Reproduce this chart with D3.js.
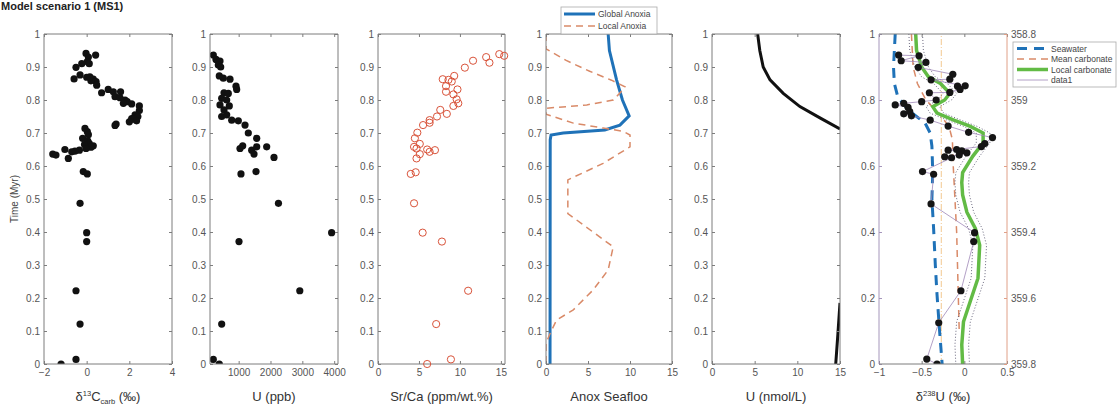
<!DOCTYPE html>
<html><head><meta charset="utf-8">
<script src="https://cdn.jsdelivr.net/npm/d3@7"></script>
<style>
body{margin:0;background:#fff;}
text{font-family:Arial,"Liberation Sans",sans-serif;}
</style>
</head><body>
<svg id="c" width="1120" height="417"></svg>
<script>
// ---------------- DATA ----------------
const title = "Model scenario 1 (MS1)";
const timeTicks = [0,0.1,0.2,0.3,0.4,0.5,0.6,0.7,0.8,0.9,1];
const timeTicks6 = [0,0.2,0.4,0.6,0.8,1];
const ageTicks = [358.8,359,359.2,359.4,359.6,359.8];

// Panel 1: d13C carb
const c13Ticks = [-2,0,2,4];
const c13Time = [0.941,0.936,0.93,0.916,0.91,0.91,0.899,0.864,0.876,0.869,0.863,0.856,0.845,0.858,0.87,0.822,0.832,0.825,0.825,0.81,0.807,0.8,0.795,0.79,0.788,0.782,0.768,0.755,0.75,0.744,0.742,0.737,0.734,0.727,0.723,0.714,0.704,0.695,0.684,0.676,0.669,0.665,0.661,0.657,0.653,0.648,0.645,0.643,0.65,0.623,0.636,0.633,0.583,0.576,0.487,0.398,0.371,0.222,0.121,0.014,0];
const c13Value = [-0.03,0.42,0.08,0.03,-0.23,0.12,-0.5,-0.59,-0.31,0,0.31,0.44,0.47,0.2,0.15,0.7,1.01,1.25,1.59,1.33,1.56,1.8,1.9,1.72,2.11,2.47,2.47,2.27,2.4,2.11,2.2,2.34,2.0,1.38,1.33,-0.08,0.03,0.08,-0.19,0.05,0.12,-0.1,0.31,0.2,-0.03,-0.34,-0.55,-0.70,-1.02,-0.86,-1.59,-1.44,-0.16,0.03,-0.31,0,0,-0.5,-0.31,-0.5,-1.2];

// Panel 2: U (ppb)
const uTicks = [1000,2000,3000,4000];
const uTime = [0.936,0.923,0.918,0.906,0.9,0.873,0.866,0.863,0.842,0.832,0.822,0.82,0.805,0.8,0.785,0.782,0.77,0.75,0.755,0.739,0.737,0.724,0.7,0.684,0.653,0.661,0.648,0.658,0.636,0.658,0.626,0.576,0.583,0.487,0.398,0.371,0.222,0.121,0.014,0];
const uValue = [204,288,414,361,436,392,518,728,917,938,540,675,467,624,414,706,540,467,624,782,990,1200,1303,1567,1042,1127,1409,1567,1482,1880,2110,1073,1545,2250,3920,1011,2920,467,204,392];

// Panel 3: Sr/Ca
const srTicks = [0,5,10,15];
const srTime = [0.939,0.934,0.93,0.913,0.919,0.898,0.873,0.863,0.861,0.856,0.842,0.832,0.825,0.817,0.802,0.79,0.782,0.77,0.758,0.75,0.739,0.731,0.724,0.701,0.684,0.667,0.658,0.653,0.65,0.643,0.648,0.636,0.623,0.576,0.581,0.487,0.398,0.371,0.222,0.121,0.014,0];
const srValue = [14.8,15.4,13.2,13.6,11.6,10.6,9.3,7.9,8.6,9.0,8.3,9.7,8.3,9.2,9.6,9.8,9.2,7.6,8.4,7.2,6.3,6.3,5.5,4.8,4.5,5.1,4.4,4.7,6.0,6.3,6.95,5.1,4.7,4.0,4.6,4.4,5.45,7.8,11.0,7.1,8.9,6.0];

// Panel 4: Anoxic seafloor
const anoxTicks = [0,5,10,15];
const globalAnoxTime = [1.0,0.95,0.861,0.8,0.752,0.724,0.709,0.7,0.694,0.679,0];
const globalAnoxValue = [7.4,7.55,8.4,9.1,9.9,8.8,7.0,2.05,0.6,0.5,0.48];
const localAnoxTime = [1.0,0.955,0.92,0.887,0.86,0.84,0.832,0.8,0.785,0.775,0.757,0.73,0.715,0.705,0.694,0.658,0.608,0.558,0.456,0.355,0.285,0.224,0.164,0.133,0.093,0.063,0];
const localAnoxValue = [0,0,2.4,5.2,7.8,9.4,9.2,8.0,4.85,0,0,3.25,6.8,9.2,10,10,6.8,2.6,2.6,8.0,7.4,5.6,3.25,1.25,0.5,0,0];

// Panel 5: U (nmol/L)
const uwTicks = [0,5,10,15];
const uwTime = [1.0,0.95,0.9,0.861,0.82,0.78,0.745,0.712,0.5,0.185,0.09,0];
const uwValue = [5.35,5.6,6.0,6.8,8.35,10.3,12.7,15.0,null,15.0,14.75,14.5];

// Panel 6: d238U
const d238Ticks = [-1,-0.5,0,0.5];
const seawaterTime = [1.0,0.95,0.9,0.85,0.81,0.77,0.73,0.7,0.66,0.58,0.5,0.41,0.3,0.21,0.1,0];
const seawaterValue = [-0.81,-0.82,-0.83,-0.82,-0.78,-0.66,-0.46,-0.40,-0.38,-0.37,-0.38,-0.36,-0.34,-0.32,-0.29,-0.26];
const meanCarbTime = [1.0,0.9,0.85,0.8,0.76,0.72,0.68,0.6,0.5,0.4,0.3,0.2,0.1];
const meanCarbValue = [-0.62,-0.6,-0.55,-0.45,-0.3,-0.18,-0.14,-0.13,-0.11,-0.09,-0.08,-0.07,-0.06];
const refLineTime = [0,1];
const refLineValue = [-0.27,-0.27];
const localCarbTime = [1.0,0.95,0.9,0.87,0.85,0.82,0.80,0.78,0.76,0.74,0.72,0.70,0.67,0.63,0.58,0.55,0.512,0.46,0.41,0.36,0.26,0.19,0.128,0.058,0];
const localCarbValue = [-0.57,-0.56,-0.5,-0.42,-0.28,-0.17,-0.23,-0.37,-0.32,-0.13,0.07,0.22,0.22,0.1,-0.02,-0.03,-0.02,0.03,0.13,0.18,0.16,0.07,-0.01,-0.03,-0.02];
const localCarbBand = 0.08;
const d238Time = [0.936,0.934,0.919,0.914,0.899,0.878,0.863,0.861,0.843,0.842,0.832,0.823,0.822,0.80,0.795,0.79,0.785,0.778,0.765,0.758,0.752,0.739,0.721,0.702,0.686,0.668,0.659,0.65,0.648,0.646,0.64,0.633,0.628,0.625,0.583,0.575,0.485,0.398,0.371,0.222,0.125,0.015,0];
const d238Value = [-0.77,-0.53,-0.74,-0.45,-0.54,-0.135,-0.17,-0.39,0.01,-0.08,-0.05,-0.17,-0.41,-0.33,-0.5,-0.71,-0.81,-0.66,-0.64,-0.71,-0.62,-0.40,-0.19,0.05,0.33,0.24,0.20,-0.09,-0.19,-0.03,0.03,-0.06,-0.23,-0.15,-0.49,-0.36,-0.39,0.12,0.11,-0.04,-0.30,-0.44,-0.32];

// ---------------- DRAWING ----------------
const svg = d3.select("#c");
const TOP = 34, BOT = 364;
const AX = "#7d7d7d", LBL = "#555";
const BLUE = "#1f72b8", ORANGE = "#d98a68", GREEN = "#62bb45", PURPLE = "#a088b8";

svg.append("text").attr("x", 1).attr("y", 10).attr("font-size", 11).attr("font-weight", "bold")
  .attr("fill", "#222").text(title);

const y = d3.scaleLinear().domain([0, 1]).range([BOT, TOP]);
let clipId = 0;

function panel(x0, x1, xDomain, xTicks, yTickVals, opts = {}) {
  const x = d3.scaleLinear().domain(xDomain).range([x0, x1]);
  const g = svg.append("g");
  const id = "clip" + (clipId++);
  svg.append("clipPath").attr("id", id).append("rect")
    .attr("x", x0).attr("y", TOP).attr("width", x1 - x0).attr("height", BOT - TOP);
  const plot = g.append("g").attr("clip-path", `url(#${id})`);
  const axB = g.append("g").attr("transform", `translate(0,${BOT})`)
    .call(d3.axisBottom(x).tickValues(xTicks).tickSize(-3).tickPadding(5).tickFormat(d3.format("")));
  const axT = g.append("g").attr("transform", `translate(0,${TOP})`)
    .call(d3.axisTop(x).tickValues(xTicks).tickSize(-3).tickFormat(""));
  const axL = g.append("g").attr("transform", `translate(${x0},0)`)
    .call(d3.axisLeft(y).tickValues(yTickVals).tickSize(-3).tickPadding(4).tickFormat(d3.format("")));
  const axes = [axB, axT, axL];
  if (!opts.noRight) {
    axes.push(g.append("g").attr("transform", `translate(${x1},0)`)
      .call(d3.axisRight(y).tickValues(yTickVals).tickSize(-3).tickFormat("")));
  }
  axes.forEach(a => {
    a.select(".domain").remove();
    a.selectAll("line").attr("stroke", AX);
    a.selectAll("text").attr("fill", LBL).attr("font-size", 10);
  });
  if (opts.leftColor) axL.selectAll("line").attr("stroke", opts.leftColor);
  const border = g.append("g");
  border.append("line").attr("x1", x0).attr("x2", x1).attr("y1", TOP).attr("y2", TOP).attr("stroke", AX);
  border.append("line").attr("x1", x0).attr("x2", x1).attr("y1", BOT).attr("y2", BOT).attr("stroke", AX);
  border.append("line").attr("x1", x0).attr("x2", x0).attr("y1", TOP).attr("y2", BOT).attr("stroke", opts.leftColor || AX);
  border.append("line").attr("x1", x1).attr("x2", x1).attr("y1", TOP).attr("y2", BOT).attr("stroke", opts.rightColor || AX);
  return {x, g, plot};
}

// parts: {t, dy, small}
function xLabel(p, parts) {
  const [a, b] = p.x.range();
  const t = p.g.append("text").attr("x", (a + b) / 2).attr("y", 401).attr("text-anchor", "middle")
    .attr("font-size", 13).attr("fill", "#333");
  parts.forEach(pt => {
    const ts = t.append("tspan").text(pt.t).attr("font-size", pt.small ? 7.5 : 13);
    if (pt.dy) ts.attr("dy", pt.dy);
  });
}

function zip(ts, vs) { return ts.map((t, i) => ({t, v: vs[i]})); }
function drawLine(p, data, attrs) {
  const l = d3.line().defined(d => d.v != null).x(d => p.x(d.v)).y(d => y(d.t));
  const path = p.plot.append("path").datum(data).attr("fill", "none").attr("d", l);
  Object.entries(attrs).forEach(([k, v]) => path.attr(k, v));
  return path;
}

// Panel 1
const p1 = panel(44, 172, [-2, 4], c13Ticks, timeTicks);
p1.plot.selectAll("circle").data(zip(c13Time, c13Value)).join("circle")
  .attr("cx", d => p1.x(d.v)).attr("cy", d => y(d.t)).attr("r", 3.6).attr("fill", "#111");
xLabel(p1, [{t: "δ"}, {t: "13", dy: -5, small: true}, {t: "C", dy: 5}, {t: "carb", dy: 3, small: true}, {t: " (‰)", dy: -3}]);
svg.append("text").attr("transform", `translate(18,${(TOP + BOT) / 2}) rotate(-90)`)
  .attr("text-anchor", "middle").attr("font-size", 10).attr("fill", "#444").text("Time (Myr)");

// Panel 2
const p2 = panel(210, 338, [100, 4120], uTicks, timeTicks);
p2.plot.selectAll("circle").data(zip(uTime, uValue)).join("circle")
  .attr("cx", d => p2.x(d.v)).attr("cy", d => y(d.t)).attr("r", 3.6).attr("fill", "#111");
xLabel(p2, [{t: "U (ppb)"}]);

// Panel 3
const p3 = panel(378, 505, [0, 15.5], srTicks, timeTicks);
p3.g.append("g").selectAll("circle").data(zip(srTime, srValue)).join("circle")
  .attr("cx", d => p3.x(d.v)).attr("cy", d => y(d.t)).attr("r", 3.6)
  .attr("fill", "none").attr("stroke", "#d9533a").attr("stroke-width", 1);
xLabel(p3, [{t: "Sr/Ca (ppm/wt.%)"}]);

// Panel 4
const p4 = panel(546, 672, [0, 15], anoxTicks, timeTicks);
drawLine(p4, zip(globalAnoxTime, globalAnoxValue), {stroke: BLUE, "stroke-width": 3});
drawLine(p4, zip(localAnoxTime, localAnoxValue), {stroke: ORANGE, "stroke-width": 1.5, "stroke-dasharray": "7,5"});
xLabel(p4, [{t: "Anox Seafloo"}]);
const lg4 = svg.append("g");
lg4.append("rect").attr("x", 561).attr("y", 7).attr("width", 96).attr("height", 27)
  .attr("fill", "#fff").attr("stroke", "#aaa").attr("stroke-width", 0.8);
[["Global Anoxia", BLUE, 3, null], ["Local Anoxia", ORANGE, 1.5, "7,5"]].forEach((e, i) => {
  const yy = 14 + i * 12;
  const ln = lg4.append("line").attr("x1", 564).attr("x2", 595).attr("y1", yy).attr("y2", yy)
    .attr("stroke", e[1]).attr("stroke-width", e[2]);
  if (e[3]) ln.attr("stroke-dasharray", e[3]);
  lg4.append("text").attr("x", 598).attr("y", yy + 3).attr("font-size", 8.5).attr("fill", "#444").text(e[0]);
});

// Panel 5
const p5 = panel(712, 840, [0, 15], uwTicks, timeTicks);
drawLine(p5, zip(uwTime, uwValue), {stroke: "#111", "stroke-width": 3});
xLabel(p5, [{t: "U (nmol/L)"}]);

// Panel 6
const p6 = panel(879, 1007, [-1, 0.5], d238Ticks, timeTicks6, {noRight: true, leftColor: "#a596bb", rightColor: "#e0a088"});
const yAge = d3.scaleLinear().domain([358.8, 359.8]).range([TOP, BOT]);
const axR = p6.g.append("g").attr("transform", "translate(1007,0)")
  .call(d3.axisRight(yAge).tickValues(ageTicks).tickSize(-3).tickPadding(4).tickFormat(d3.format("")));
axR.select(".domain").remove();
axR.selectAll("line").attr("stroke", "#e0a088");
axR.selectAll("text").attr("fill", LBL).attr("font-size", 10);

drawLine(p6, zip(refLineTime, refLineValue), {stroke: "#f2c890", "stroke-width": 1, "stroke-dasharray": "6,2,1,2"});
drawLine(p6, zip(meanCarbTime, meanCarbValue), {stroke: ORANGE, "stroke-width": 1.5, "stroke-dasharray": "7,5"});
drawLine(p6, zip(seawaterTime, seawaterValue), {stroke: BLUE, "stroke-width": 3, "stroke-dasharray": "10,7"});
const lc = zip(localCarbTime, localCarbValue);
drawLine(p6, lc.map(d => ({t: d.t, v: d.v - localCarbBand})), {stroke: "#5a5870", "stroke-width": 0.9, "stroke-dasharray": "1,2"});
drawLine(p6, lc.map(d => ({t: d.t, v: d.v + localCarbBand})), {stroke: "#5a5870", "stroke-width": 0.9, "stroke-dasharray": "1,2"});
drawLine(p6, lc, {stroke: GREEN, "stroke-width": 3.5});
const pts6 = zip(d238Time, d238Value);
drawLine(p6, pts6, {stroke: PURPLE, "stroke-width": 0.8});
p6.plot.selectAll("circle").data(pts6).join("circle")
  .attr("cx", d => p6.x(d.v)).attr("cy", d => y(d.t)).attr("r", 3.6).attr("fill", "#151515");
xLabel(p6, [{t: "δ"}, {t: "238", dy: -5, small: true}, {t: "U (‰)", dy: 5}]);

const lg6 = svg.append("g");
lg6.append("rect").attr("x", 1013).attr("y", 42).attr("width", 103).attr("height", 45)
  .attr("fill", "#fff").attr("stroke", "#aaa").attr("stroke-width", 0.8);
[["Seawater", BLUE, 3, "10,7"], ["Mean carbonate", ORANGE, 1.5, "7,5"], ["Local carbonate", GREEN, 3.5, null], ["data1", PURPLE, 0.8, null]]
.forEach((e, i) => {
  const yy = 48.5 + i * 10.5;
  const ln = lg6.append("line").attr("x1", 1017).attr("x2", 1048).attr("y1", yy).attr("y2", yy)
    .attr("stroke", e[1]).attr("stroke-width", e[2]);
  if (e[3]) ln.attr("stroke-dasharray", e[3]);
  lg6.append("text").attr("x", 1051).attr("y", yy + 3).attr("font-size", 8.5).attr("fill", "#444").text(e[0]);
});
</script>
</body></html>
